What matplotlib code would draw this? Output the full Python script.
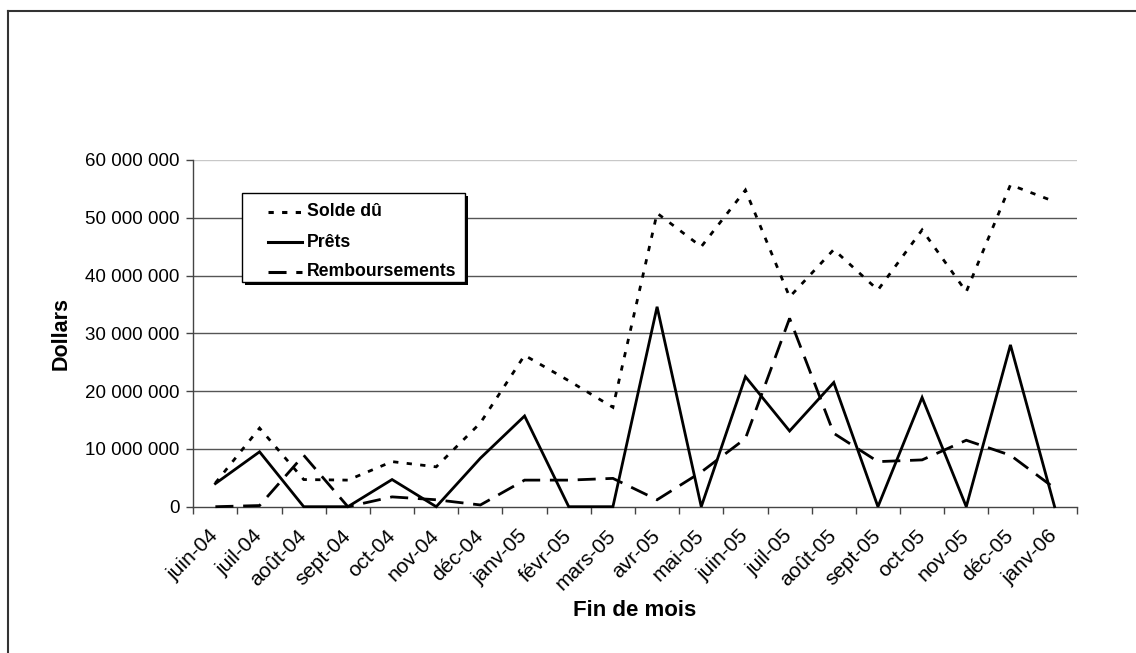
import numpy as np
import matplotlib
matplotlib.use('Agg')
import matplotlib.pyplot as plt
from matplotlib.lines import Line2D
from matplotlib.patches import Rectangle
from matplotlib.ticker import FuncFormatter, FixedLocator

months = ['juin-04', 'juil-04', 'août-04', 'sept-04', 'oct-04', 'nov-04', 'déc-04',
          'janv-05', 'févr-05', 'mars-05', 'avr-05', 'mai-05', 'juin-05', 'juil-05',
          'août-05', 'sept-05', 'oct-05', 'nov-05', 'déc-05', 'janv-06']
solde = [4.1e6, 13.6e6, 4.7e6, 4.6e6, 7.8e6, 6.9e6, 14.5e6, 26.2e6, 21.8e6, 17.2e6,
         50.8e6, 45.0e6, 54.8e6, 36.3e6, 44.5e6, 37.5e6, 47.9e6, 37.2e6, 55.7e6, 52.8e6]
prets = [4.0e6, 9.5e6, 0, 0, 4.7e6, 0, 8.4e6, 15.7e6, 0, 0,
         34.6e6, 0, 22.5e6, 13.1e6, 21.5e6, 0, 18.9e6, 0, 28.0e6, 0]
remb = [0, 0.2e6, 8.9e6, 0, 1.7e6, 1.2e6, 0.3e6, 4.6e6, 4.6e6, 4.9e6,
        1.2e6, 6.0e6, 11.8e6, 32.6e6, 12.7e6, 7.8e6, 8.1e6, 11.5e6, 8.9e6, 3.2e6]
series_names = ['Solde dû', 'Prêts', 'Remboursements']
yticks = [0, 10e6, 20e6, 30e6, 40e6, 50e6, 60e6]

plt.rcParams['font.family'] = ['Liberation Sans', 'DejaVu Sans']
plt.rcParams['lines.scale_dashes'] = False

W, H = 1136, 653
fig = plt.figure(figsize=(W / 100, H / 100), dpi=100)
fx = lambda px: px / W
fy = lambda py: 1 - py / H

L, R, T, B = 193.3, 1076.7, 160.0, 506.7
ax = fig.add_axes([fx(L), fy(B), (R - L) / W, (B - T) / H])

styles = {
    'Solde dû': dict(linestyle=(0, (3.8, 6.0))),
    'Prêts': dict(linestyle='-'),
    'Remboursements': dict(linestyle=(0, (13, 7))),
}
x = np.arange(len(months))
for name, vals in zip(series_names, [solde, prets, remb]):
    ax.plot(x, vals, color='black', lw=2.0, clip_on=False, zorder=3,
            solid_joinstyle='miter', dash_joinstyle='miter', **styles[name])

ax.set_xlim(-0.5, len(months) - 0.5)
ax.set_ylim(0, 60e6)
ax.set_yticks(yticks)
ax.yaxis.set_major_formatter(FuncFormatter(lambda v, p: f'{int(round(v)):,}'.replace(',', ' ')))

ax.set_xticks(x)
ax.set_xticklabels(months, rotation=45, ha='right', rotation_mode='anchor', va='center')
ax.xaxis.set_minor_locator(FixedLocator(np.arange(len(months) + 1) - 0.5))
ax.tick_params(axis='x', which='major', length=0, pad=19, labelsize=15)
ax.tick_params(axis='x', which='minor', length=5, width=1, color='#444444', direction='out')
ax.tick_params(axis='y', which='major', length=5, width=1, color='#444444', direction='out',
               pad=5, labelsize=13.5)

for s in ['top', 'right']:
    ax.spines[s].set_visible(False)
for s in ['left', 'bottom']:
    ax.spines[s].set_color('#444444')
    ax.spines[s].set_linewidth(1.0)

for v in yticks[1:]:
    c = '#c8c8c8' if v == yticks[-1] else '#555555'
    ax.axhline(v, color=c, lw=1.0, zorder=1)

fig.text(fx(61), 0.5 * (fy(T) + fy(B)), 'Dollars', fontsize=15.5, fontweight='bold',
         rotation=90, ha='center', va='center')
fig.text(fx(635), fy(610), 'Fin de mois', fontsize=16, fontweight='bold',
         ha='center', va='center')

# legend (drawn manually to match the box layout)
lx0, lx1, ly0, ly1 = 241.7, 465.0, 193.3, 281.7
fig.add_artist(Rectangle((fx(lx0 + 3), fy(ly1 + 3)), (lx1 - lx0) / W, (ly1 - ly0) / H,
                         transform=fig.transFigure, facecolor='black', edgecolor='black',
                         lw=0, zorder=5))
fig.add_artist(Rectangle((fx(lx0), fy(ly1)), (lx1 - lx0) / W, (ly1 - ly0) / H,
                         transform=fig.transFigure, facecolor='white', edgecolor='black',
                         lw=1.0, zorder=6))
rows = [211.7, 242.0, 271.7]
for name, ry in zip(series_names, rows):
    fig.add_artist(Line2D([fx(268), fx(302)], [fy(ry), fy(ry)], transform=fig.transFigure,
                          color='black', lw=2.2, zorder=7, **styles[name]))
    fig.text(fx(307), fy(ry), name, fontsize=12.7, fontweight='bold', va='center', ha='left',
             zorder=7)

# outer frame of the chart area
fig.add_artist(Line2D([fx(8), fx(8)], [0, fy(11)], transform=fig.transFigure,
                      color='#333333', lw=1.5))
fig.add_artist(Line2D([fx(8), 1], [fy(11), fy(11)], transform=fig.transFigure,
                      color='#333333', lw=1.5))

fig.savefig('out.png', dpi=100)
